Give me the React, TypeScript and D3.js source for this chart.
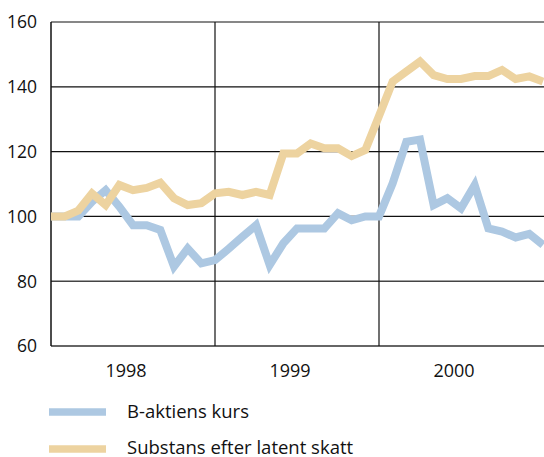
import React from "react";
import * as d3 from "d3";

const years = ["1998", "1999", "2000"];
const yTicks = [60, 80, 100, 120, 140, 160];
// monthly observations, Jan 1998 .. Jan 2001 (37 points)
const bAktien = [
  100, 100, 100, 104.5, 108.1, 103, 97.3, 97.3, 95.8, 84.5, 90.1, 85.5,
  86.5, 90, 93.7, 97.3, 85, 91.7, 96.3, 96.3, 96.3, 101, 98.8, 100,
  100, 110.2, 123, 123.7, 103.5, 105.6, 102.5, 109.7, 96.3, 95.3, 93.5, 94.6,
  91.2,
];
const substans = [
  100, 100, 101.8, 107.1, 103.5, 109.7, 108.1, 108.8, 110.4, 105.6, 103.5, 104.1,
  107.1, 107.6, 106.6, 107.6, 106.6, 119.4, 119.4, 122.5, 121, 121, 118.6, 120.5,
  131, 141.6, 144.7, 147.8, 143.6, 142.4, 142.4, 143.3, 143.3, 145.2, 142.4, 143.2,
  141.6,
];
const seriesNames = ["B-aktiens kurs", "Substans efter latent skatt"];
const seriesColors = ["#adc8e2", "#edd3a0"];

export default function App() {
  const W = 544, H = 457;
  const left = 51, right = 543, top = 22, bottom = 346;
  const x = d3.scaleLinear().domain([0, 36]).range([left, right]);
  const y = d3.scaleLinear().domain([60, 160]).range([bottom, top]);
  const line = d3
    .line<number>()
    .x((_, i) => x(i))
    .y((d) => y(d));
  const font = "'Open Sans', sans-serif";
  return (
    <svg
      width={W}
      height={H}
      style={{ position: "absolute", left: 0, top: 0, background: "#fff" }}
    >
      {yTicks.map((t) => (
        <g key={t}>
          {t > 60 && (
            <line x1={left} x2={W} y1={y(t)} y2={y(t)} stroke={t === 80 ? "#444" : "#111"} strokeWidth={t === 80 ? 1.5 : 1.2} />
          )}
          <text x={37} y={y(t)} dy="0.36em" textAnchor="end" fontFamily={font} fontSize={17.5} fill="#111">
            {t}
          </text>
        </g>
      ))}
      <line x1={left} x2={W} y1={bottom} y2={bottom} stroke="#333" strokeWidth={1.5} />
      <line x1={left} x2={left} y1={top} y2={bottom} stroke="#111" strokeWidth={1.5} />
      {[12, 24].map((k) => (
        <line key={k} x1={x(k)} x2={x(k)} y1={top} y2={bottom} stroke="#111" strokeWidth={1.2} />
      ))}
      {years.map((yr, i) => (
        <text key={yr} x={x(i * 12 + 6) - 7} y={377} textAnchor="middle" fontFamily={font} fontSize={18} fill="#111">
          {yr}
        </text>
      ))}
      <path d={line(bAktien) || ""} fill="none" stroke={seriesColors[0]} strokeWidth={8} strokeLinejoin="miter" />
      <path d={line(substans) || ""} fill="none" stroke={seriesColors[1]} strokeWidth={8} strokeLinejoin="miter" />
      {seriesNames.map((n, i) => (
        <g key={n}>
          <line x1={49} x2={106} y1={412 + i * 37} y2={412 + i * 37} stroke={seriesColors[i]} strokeWidth={7.5} />
          <text x={127} y={418 + i * 35.5} fontFamily={font} fontSize={18.5} fill="#111">
            {n}
          </text>
        </g>
      ))}
    </svg>
  );
}
